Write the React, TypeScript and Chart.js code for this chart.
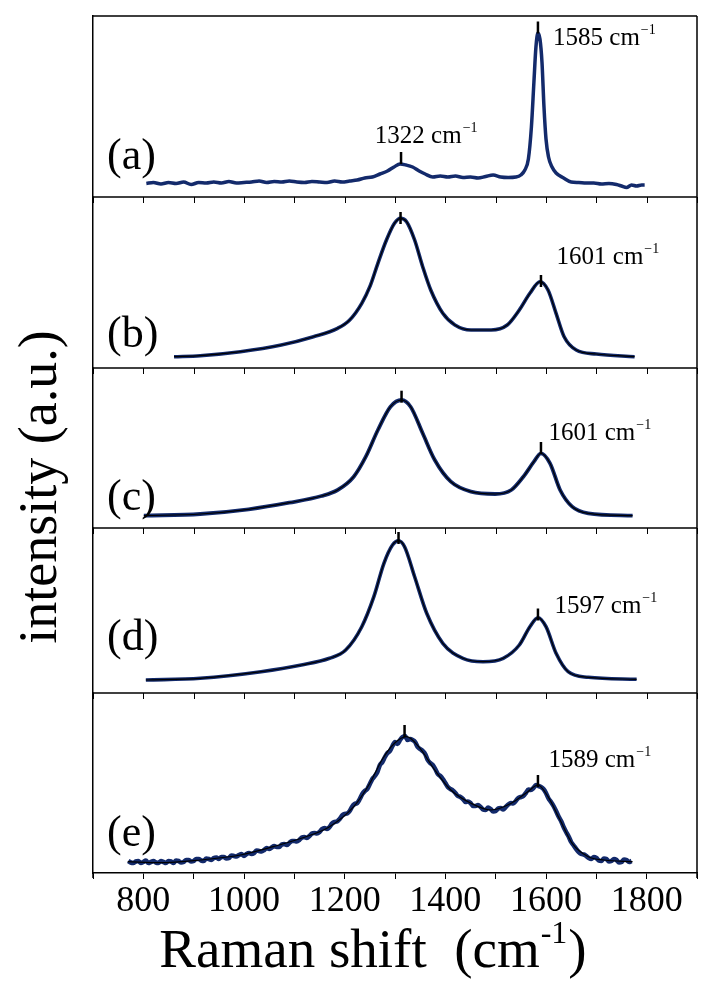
import React, { useEffect, useRef } from 'react';
import { Chart, registerables } from 'chart.js';

Chart.register(...registerables);

// ---------- data (Raman shift in cm-1, intensity in a.u.) ----------
const xTickLabels = ['800', '1000', '1200', '1400', '1600', '1800'];
const panelLabels = ['(a)', '(b)', '(c)', '(d)', '(e)'];
const peakLabelsG = ['1585', '1601', '1601', '1597', '1589'];
const peakLabelD = '1322';

const spectrumA: [number, number][] = [
  [806, 13.5], [820, 14.5], [835, 13], [850, 14.5], [865, 13.5], [880, 15], [895, 12.5], [910, 14.5],
  [925, 14], [940, 15], [955, 14], [970, 15.5], [985, 14], [1000, 14.5], [1015, 15], [1030, 16],
  [1045, 14.5], [1060, 15.5], [1075, 15], [1090, 16], [1105, 15], [1120, 14.5], [1135, 15.5], [1150, 15],
  [1165, 14.5], [1180, 16], [1195, 15], [1210, 16], [1225, 17], [1240, 19], [1255, 20], [1270, 23],
  [1285, 26], [1298, 30], [1310, 33], [1322, 32], [1335, 30], [1348, 26], [1360, 23], [1375, 20],
  [1390, 21], [1405, 20], [1420, 21], [1435, 19.5], [1450, 20], [1465, 19], [1480, 20.5], [1495, 22],
  [1510, 20], [1525, 19.5], [1540, 20], [1550, 22], [1558, 27], [1565, 38], [1571, 70], [1576, 115],
  [1580, 150], [1584, 164], [1588, 158], [1592, 135], [1596, 90], [1600, 58], [1605, 40], [1612, 30],
  [1620, 24], [1635, 19], [1650, 15], [1665, 14.5], [1680, 14], [1695, 14], [1710, 13], [1725, 13.5],
  [1740, 12.5], [1750, 11], [1760, 9.5], [1770, 12], [1780, 11], [1790, 12], [1796, 12],
];

const spectrumB: [number, number][] = [
  [861, 11.3], [913, 12.3], [993, 16.3], [1074, 23], [1138, 31.3], [1186, 39.7], [1210, 48], [1234, 64.7],
  [1250, 81.3], [1266, 104.7], [1283, 128], [1299, 144.7], [1311, 149.7], [1323, 146.3], [1339, 128],
  [1355, 101.3], [1371, 78], [1395, 54.7], [1419, 43], [1451, 38], [1491, 38], [1523, 43], [1547, 58],
  [1568, 74.7], [1588, 86.3], [1604, 78], [1620, 54.7], [1636, 31.3], [1660, 18], [1700, 14], [1776, 11.3],
];

const spectrumC: [number, number][] = [
  [801, 12.3], [913, 14], [1009, 18.7], [1090, 25.3], [1154, 32], [1186, 38], [1218, 51.3], [1242, 71.3],
  [1266, 98], [1291, 121.3], [1313, 128], [1331, 121.3], [1355, 94.7], [1379, 68], [1411, 46.3],
  [1451, 36.3], [1499, 34], [1531, 38], [1555, 51.3], [1576, 66.3], [1590, 74.7], [1608, 64.7],
  [1628, 38], [1652, 21.3], [1684, 14.7], [1772, 12.3],
];

const spectrumD: [number, number][] = [
  [805, 13], [913, 14.7], [1034, 21.3], [1114, 28], [1170, 34.7], [1202, 43], [1234, 66.3], [1258, 96.3],
  [1278, 129.7], [1295, 148], [1307, 152.3], [1319, 146.3], [1339, 116.3], [1363, 79.7], [1395, 49.7],
  [1435, 34.7], [1475, 31.3], [1515, 34.7], [1547, 48], [1568, 66.3], [1584, 75.3], [1600, 66.3],
  [1620, 39.7], [1644, 21.3], [1684, 15.7], [1780, 13.7],
];

const spectrumE: [number, number][] = [
  [770, 12], [775, 10.5], [780, 10], [785, 11.5], [790, 12], [795, 10], [800, 11], [805, 12.5], [810, 10],
  [815, 11], [820, 12], [825, 10.5], [830, 10], [835, 12], [840, 11], [845, 10], [850, 12], [855, 11.5],
  [860, 10], [865, 12.5], [870, 12], [875, 10.5], [880, 11], [885, 13], [890, 13], [895, 11.5], [900, 12],
  [905, 14], [910, 14], [915, 12.5], [920, 12], [925, 14.5], [930, 14], [935, 13], [940, 15], [945, 15.5],
  [950, 14], [955, 16], [960, 16], [965, 14.5], [970, 15], [975, 17.5], [980, 17], [985, 16.5], [990, 18],
  [995, 19], [1000, 17], [1005, 19], [1010, 20], [1015, 19], [1020, 20], [1025, 22.5], [1030, 22],
  [1035, 21.5], [1040, 23], [1045, 25], [1050, 24], [1055, 25.5], [1060, 27], [1065, 26], [1070, 26],
  [1075, 28.5], [1080, 29], [1085, 28], [1090, 30], [1095, 32], [1100, 32], [1105, 31.5], [1110, 33],
  [1115, 35.5], [1120, 36], [1125, 35], [1130, 37], [1135, 39.5], [1140, 40], [1145, 39.5], [1150, 41],
  [1155, 44], [1160, 45], [1165, 44], [1170, 46], [1175, 49.5], [1180, 51], [1185, 51.5], [1190, 54],
  [1195, 57.5], [1200, 59], [1205, 59.5], [1210, 62], [1215, 66.5], [1220, 69], [1225, 70], [1230, 74],
  [1235, 79], [1240, 82], [1245, 84], [1250, 89], [1255, 94], [1260, 97], [1265, 101], [1270, 108],
  [1275, 111], [1280, 116], [1285, 120], [1290, 122], [1295, 127], [1300, 131], [1305, 129], [1310, 133],
  [1315, 136], [1320, 137], [1325, 133], [1330, 134], [1335, 133], [1340, 131], [1345, 126], [1350, 124],
  [1355, 122], [1360, 119], [1365, 113], [1370, 110], [1375, 108], [1380, 104], [1385, 99], [1390, 97],
  [1395, 94], [1400, 90], [1405, 86], [1410, 84], [1415, 82.5], [1420, 80], [1425, 77], [1430, 76],
  [1435, 74], [1440, 71], [1445, 71.5], [1450, 70], [1455, 67], [1460, 67], [1465, 68], [1470, 66],
  [1475, 63.5], [1480, 63], [1485, 65.5], [1490, 64], [1495, 61.5], [1500, 62], [1505, 64.5], [1510, 65],
  [1515, 63.5], [1520, 66], [1525, 68.5], [1530, 70], [1535, 69.5], [1540, 72], [1545, 75], [1550, 76],
  [1555, 77], [1560, 80], [1565, 83.5], [1570, 83], [1575, 85], [1580, 88], [1585, 87], [1590, 86],
  [1595, 84], [1600, 80], [1605, 74.5], [1610, 71], [1615, 67], [1620, 62], [1625, 56.5], [1630, 52],
  [1635, 46], [1640, 41], [1645, 36.5], [1650, 31], [1655, 27.5], [1660, 24], [1665, 21], [1670, 19],
  [1675, 18.5], [1680, 17], [1685, 15], [1690, 14], [1695, 16], [1700, 15], [1705, 12.5], [1710, 12],
  [1715, 14.5], [1720, 14], [1725, 11.5], [1730, 12], [1735, 14], [1740, 13], [1745, 10.5], [1750, 11],
  [1755, 13.5], [1760, 13], [1765, 11], [1770, 12],
];

const fitE: [number, number][] = [
  [769, 11.3], [833, 10.3], [913, 13], [993, 18], [1058, 26.3], [1114, 34.7], [1170, 46.3], [1218, 66.3],
  [1250, 89.7], [1274, 113], [1299, 129.7], [1323, 136.3], [1347, 126.3], [1379, 103], [1411, 83],
  [1451, 69.7], [1491, 63], [1531, 69.7], [1564, 81.3], [1584, 88], [1604, 76.3], [1628, 53],
  [1652, 29.7], [1684, 16.3], [1716, 13], [1772, 11.3],
];

// peak markers: [shift, intensity]
const peaksA: [number, number][] = [[1312, 39], [1584, 169.5]];
const peaksB: [number, number][] = [[1311, 150], [1590, 87]];
const peaksC: [number, number][] = [[1313, 131.3], [1590, 80]];
const peaksD: [number, number][] = [[1307, 155], [1584, 78.5]];
const peaksE: [number, number][] = [[1319, 142], [1584, 92]];

// ---------- layout / style ----------
const W = 709;
const H = 993;
const FONT = "'Liberation Serif', 'Times New Roman', serif";
const NAVY = '#132a6b';
const panelIds = ['ya', 'yb', 'yc', 'yd', 'ye'];
const panelHeights = [181, 171, 160, 165, 180];
const labelOffsets = [39.5, 33, 30, 55, 39]; // px above panel bottom
const gLabelPos: [number, number][] = [[1614, 160.3], [1621, 112], [1605, 96], [1617, 88], [1605, 114]];
const dLabelPos: [number, number] = [1260, 62];

const toXY = (arr: [number, number][]) => arr.map(([x, y]) => ({ x, y }));

function drawCm(ctx: CanvasRenderingContext2D, num: string, x: number, yc: number) {
  const size = 25;
  ctx.font = `${size}px ${FONT}`;
  ctx.textAlign = 'left';
  ctx.textBaseline = 'alphabetic';
  const base = yc + 0.33 * size;
  const main = `${num} cm`;
  ctx.fillText(main, x, base);
  const w = ctx.measureText(main).width;
  ctx.font = `${Math.round(size * 0.58)}px ${FONT}`;
  ctx.fillText('\u22121', x + w + 1, base - 0.45 * size);
}

const figurePlugin = {
  id: 'figurePlugin',
  afterDraw(chart: any) {
    const { ctx, chartArea, scales } = chart;
    const xs = scales.x;
    const { left, right, top, bottom } = chartArea;
    ctx.save();
    ctx.strokeStyle = '#000';
    ctx.lineWidth = 1.5;
    ctx.beginPath();
    ctx.moveTo(left, top);
    ctx.lineTo(right, top);
    ctx.moveTo(right, top);
    ctx.lineTo(right, bottom + 5);
    ctx.moveTo(left, bottom);
    ctx.lineTo(left, bottom + 5);
    ctx.stroke();
    panelIds.slice(1).forEach((id) => {
      const yy = scales[id].top;
      ctx.lineWidth = 1.5;
      ctx.beginPath();
      ctx.moveTo(left, yy);
      ctx.lineTo(right, yy);
      ctx.stroke();
      ctx.lineWidth = 1;
      ctx.beginPath();
      xs.ticks.forEach((t: any) => {
        const px = Math.round(xs.getPixelForValue(t.value)) + 0.5;
        ctx.moveTo(px, yy);
        ctx.lineTo(px, yy + 6);
      });
      ctx.stroke();
    });

    ctx.fillStyle = '#000';
    // panel labels
    panelIds.forEach((id, i) => {
      ctx.font = `44px ${FONT}`;
      ctx.textAlign = 'left';
      ctx.textBaseline = 'middle';
      ctx.fillText(panelLabels[i], left + 14, scales[id].bottom - labelOffsets[i]);
    });
    // peak annotations
    panelIds.forEach((id, i) => {
      const [gx, gy] = gLabelPos[i];
      drawCm(ctx, peakLabelsG[i], xs.getPixelForValue(gx), scales[id].getPixelForValue(gy));
    });
    drawCm(ctx, peakLabelD, xs.getPixelForValue(dLabelPos[0]), scales.ya.getPixelForValue(dLabelPos[1]));

    // y title
    ctx.save();
    ctx.translate(42, 487);
    ctx.rotate(-Math.PI / 2);
    ctx.font = `54px ${FONT}`;
    ctx.textAlign = 'center';
    ctx.textBaseline = 'middle';
    ctx.fillText('intensity (a.u.)', 0, 0);
    ctx.restore();

    // x title
    const main1 = 'Raman shift  (cm';
    const sup = '-1';
    const tail = ')';
    ctx.textAlign = 'left';
    ctx.textBaseline = 'alphabetic';
    ctx.font = `55px ${FONT}`;
    const w1 = ctx.measureText(main1).width;
    const w3 = ctx.measureText(tail).width;
    ctx.font = `32px ${FONT}`;
    const w2 = ctx.measureText(sup).width;
    const total = w1 + w2 + w3 + 2;
    const x0 = 373 - total / 2;
    const base = 967;
    ctx.font = `55px ${FONT}`;
    ctx.fillText(main1, x0, base);
    ctx.font = `32px ${FONT}`;
    ctx.fillText(sup, x0 + w1 + 1, base - 24);
    ctx.font = `55px ${FONT}`;
    ctx.fillText(tail, x0 + w1 + w2 + 2, base);
    ctx.restore();
  },
};

export default function App() {
  const ref = useRef<HTMLCanvasElement>(null);

  useEffect(() => {
    const canvas = ref.current;
    if (!canvas) return;
    const panels = [
      { id: 'ya', data: spectrumA, fit: null as null | [number, number][], peaks: peaksA, width: 3.5 },
      { id: 'yb', data: spectrumB, fit: spectrumB, peaks: peaksB, width: 3.6 },
      { id: 'yc', data: spectrumC, fit: spectrumC, peaks: peaksC, width: 3.8 },
      { id: 'yd', data: spectrumD, fit: spectrumD, peaks: peaksD, width: 3.6 },
      { id: 'ye', data: spectrumE, fit: fitE, peaks: peaksE, width: 4.6 },
    ];
    const datasets: any[] = [];
    panels.forEach((p) => {
      datasets.push({
        data: toXY(p.peaks),
        yAxisID: p.id,
        showLine: false,
        pointStyle: 'line',
        pointRotation: 90,
        pointRadius: 6,
        pointBorderWidth: 2.5,
        pointBorderColor: '#000',
        pointBackgroundColor: '#000',
        order: 0,
      });
      if (p.fit) {
        datasets.push({
          data: toXY(p.fit),
          yAxisID: p.id,
          borderColor: '#000',
          borderWidth: 1.2,
          pointRadius: 0,
          cubicInterpolationMode: 'monotone',
          fill: false,
          order: 1,
        });
      }
      datasets.push({
        data: toXY(p.data),
        yAxisID: p.id,
        borderColor: NAVY,
        borderWidth: p.width,
        pointRadius: 0,
        cubicInterpolationMode: 'monotone',
        borderJoinStyle: 'round',
        fill: false,
        order: 2,
      });
    });

    const scales: any = {
      x: {
        type: 'linear',
        position: 'bottom',
        min: 700,
        max: 1900,
        afterFit: (s: any) => {
          s.height = 120;
        },
        ticks: {
          stepSize: 100,
          autoSkip: false,
          maxRotation: 0,
          padding: 1,
          color: '#000',
          font: { family: FONT, size: 36 },
          callback: (v: any) => (xTickLabels.includes(String(v)) ? String(v) : ''),
        },
        grid: { display: true, drawOnChartArea: false, drawTicks: true, tickLength: 6, color: '#000', lineWidth: 1 },
        border: { display: true, color: '#000', width: 1.5 },
      },
    };
    panelIds.forEach((id, i) => {
      scales[id] = {
        type: 'linear',
        position: 'left',
        stack: 'panels',
        stackWeight: panelHeights[i],
        weight: panelIds.length - i,
        min: 0,
        max: panelHeights[i],
        afterFit: (s: any) => {
          s.width = 0;
        },
        ticks: { display: false },
        grid: { display: false, drawTicks: false },
        border: { display: true, color: '#000', width: 1.5 },
      };
    });

    const chart = new Chart(canvas, {
      type: 'line',
      data: { datasets },
      options: {
        responsive: false,
        animation: false,
        devicePixelRatio: 1,
        events: [],
        layout: { padding: { left: 93, right: 12, top: 16, bottom: 0 } },
        plugins: { legend: { display: false }, tooltip: { enabled: false } },
        scales,
      },
      plugins: [figurePlugin],
    } as any);
    return () => chart.destroy();
  }, []);

  return (
    <div style={{ position: 'absolute', left: 0, top: 0, width: W, height: H, background: '#fff' }}>
      <canvas ref={ref} width={W} height={H} style={{ display: 'block', width: W, height: H }} />
    </div>
  );
}
